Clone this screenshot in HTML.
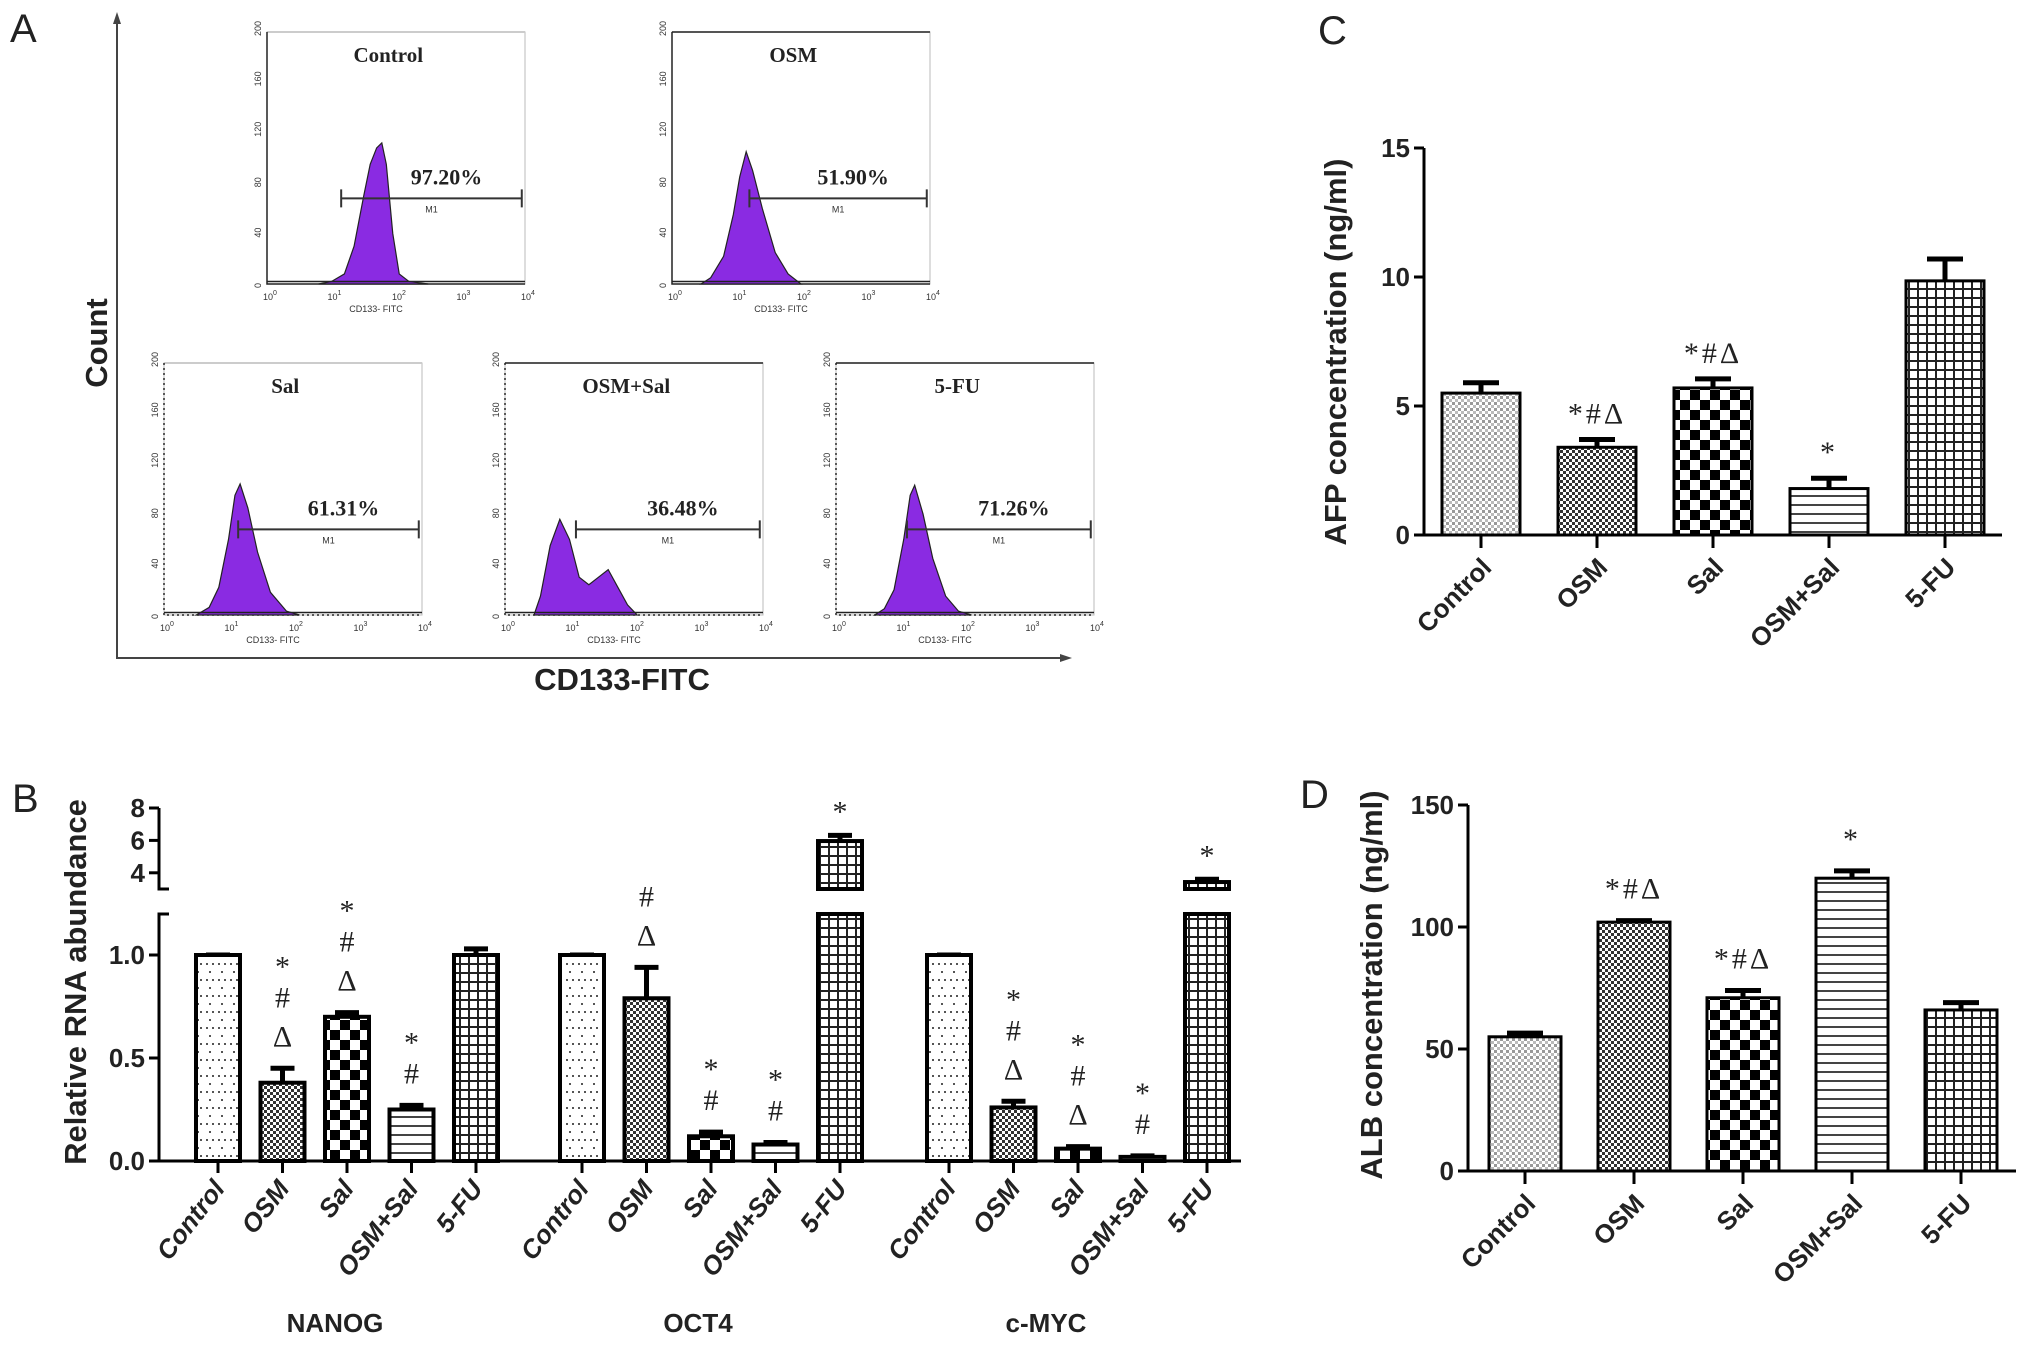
<!DOCTYPE html>
<html><head><meta charset="utf-8"><style>
html,body{margin:0;padding:0;background:#fff;}
svg{display:block;}
.ax{stroke:#000;stroke-width:3;fill:none;}
.tk{font-family:"Liberation Sans",sans-serif;font-weight:bold;font-size:26px;fill:#222;}
.ttl{font-family:"Liberation Sans",sans-serif;font-weight:bold;font-size:31px;fill:#222;}
.pl{font-family:"Liberation Sans",sans-serif;font-size:40px;fill:#222;}
.sym{font-family:"Liberation Serif",serif;font-size:30px;fill:#222;}
.hs{font-family:"Liberation Serif",serif;font-weight:bold;fill:#222;}
.sm{font-family:"Liberation Sans",sans-serif;font-size:9px;fill:#333;}
</style></head><body>
<svg id="fig" width="2031" height="1361" viewBox="0 0 2031 1361" xmlns="http://www.w3.org/2000/svg">
<defs>
<pattern id="pDots" width="6" height="6" patternUnits="userSpaceOnUse"><rect width="6" height="6" fill="#fff"/><rect x="0" y="0" width="3" height="3" fill="#999"/><rect x="3" y="3" width="3" height="3" fill="#bbb"/></pattern>
<pattern id="pDense" width="6" height="6" patternUnits="userSpaceOnUse"><rect width="6" height="6" fill="#fff"/><rect x="0" y="0" width="3" height="3" fill="#333"/><rect x="3" y="3" width="3" height="3" fill="#333"/></pattern>
<pattern id="pCheck" width="20" height="20" patternUnits="userSpaceOnUse"><rect width="20" height="20" fill="#fff"/><rect width="10" height="10" fill="#000"/><rect x="10" y="10" width="10" height="10" fill="#000"/></pattern>
<pattern id="pH" width="8" height="9" patternUnits="userSpaceOnUse"><rect width="8" height="9" fill="#fff"/><rect y="0" width="8" height="2" fill="#444"/></pattern>
<pattern id="pGrid" width="9" height="9" patternUnits="userSpaceOnUse"><rect width="9" height="9" fill="#fff"/><rect width="9" height="2" fill="#222"/><rect width="2" height="9" fill="#222"/></pattern>
<pattern id="pSparse" width="12" height="16" patternUnits="userSpaceOnUse"><rect width="12" height="16" fill="#fff"/><rect x="2" y="3" width="2" height="2" fill="#555"/><rect x="8" y="3" width="2" height="2" fill="#555"/><rect x="5" y="11" width="2" height="2" fill="#555"/></pattern>
</defs>
<g id="panelA"></g>
<g id="panelB"></g>
<g id="panelC"></g>
<g id="panelD"></g>
</svg>
<script>
var NS="http://www.w3.org/2000/svg";
function mk(parent,tag,attrs,text){var e=document.createElementNS(NS,tag);for(var k in attrs)e.setAttribute(k,attrs[k]);if(text!==undefined)e.textContent=text;parent.appendChild(e);return e;}

// ---------- data ----------
var cats=["Control","OSM","Sal","OSM+Sal","5-FU"];
var fills=["url(#pDots)","url(#pDense)","url(#pCheck)","url(#pH)","url(#pGrid)"];
var bFills=["url(#pSparse)","url(#pDense)","url(#pCheck)","url(#pH)","url(#pGrid)"];
var afpValues=[5.5,3.4,5.7,1.8,9.85];
var afpErrors=[0.4,0.3,0.35,0.4,0.85];
var afpAnnot=["","*#Δ","*#Δ","*",""];
var afpTicks=[0,5,10,15];
var albValues=[55,102,71,120,66];
var albErrors=[1.5,0.6,3,3,3];
var albAnnot=["","*#Δ","*#Δ","*",""];
var albTicks=[0,50,100,150];
var genes=["NANOG","OCT4","c-MYC"];
var nanogValues=[1.0,0.38,0.70,0.25,1.0];
var nanogErrors=[0,0.07,0.02,0.02,0.03];
var oct4Values=[1.0,0.79,0.12,0.08,5.96];
var oct4Errors=[0,0.15,0.02,0.01,0.35];
var cmycValues=[1.0,0.26,0.06,0.02,3.43];
var cmycErrors=[0,0.03,0.01,0.005,0.17];
var nanogAnnot=[[],["*","#","Δ"],["*","#","Δ"],["*","#"],[]];
var oct4Annot=[[],["#","Δ"],["*","#"],["*","#"],["*"]];
var cmycAnnot=[[],["*","#","Δ"],["*","#","Δ"],["*","#"],["*"]];
var bLowTicks=[0,0.5,1.0];
var bLowLabels=["0.0","0.5","1.0"];
var bHighTicks=[4,6,8];
// flow cytometry histograms: [log10 intensity, count]
var flowTitles=["Control","OSM","Sal","OSM+Sal","5-FU"];
var flowPercents=["97.20%","51.90%","61.31%","36.48%","71.26%"];
var flowM1Start=[1.15,1.2,1.15,1.1,1.1];
var histControl=[[0.8,0],[1.0,2],[1.2,8],[1.35,30],[1.5,70],[1.6,95],[1.7,108],[1.78,112],[1.85,95],[1.95,40],[2.05,8],[2.2,2],[2.5,0]];
var histOSM=[[0.45,0],[0.6,5],[0.8,22],[0.95,55],[1.05,85],[1.15,105],[1.25,90],[1.4,60],[1.6,25],[1.8,8],[2.0,0]];
var histSal=[[0.5,0],[0.7,6],[0.85,22],[1.0,60],[1.1,95],[1.18,104],[1.3,85],[1.45,50],[1.65,18],[1.9,3],[2.1,0]];
var histOSMSal=[[0.45,0],[0.55,15],[0.7,55],[0.85,76],[1.0,60],[1.15,30],[1.3,24],[1.45,30],[1.6,36],[1.75,22],[1.9,8],[2.05,0]];
var hist5FU=[[0.6,0],[0.75,5],[0.9,20],[1.05,60],[1.15,95],[1.22,103],[1.35,80],[1.5,45],[1.7,15],[1.9,3],[2.1,0]];
var flowHists=[histControl,histOSM,histSal,histOSMSal,hist5FU];

// ---------- Panel C / D ----------
function barChart(g,cfg){
  function y(v){return cfg.y0-(v-0)*(cfg.y0-cfg.yTop)/cfg.vmax;}
  function xc(i){return cfg.x0+cfg.first+i*cfg.step;}
  var l=mk(g,"text",{x:cfg.lx,y:cfg.ly,class:"pl"},cfg.letter);
  
  
  var yt=mk(g,"text",{x:0,y:0,class:"ttl","text-anchor":"middle",transform:"translate("+cfg.ytx+","+cfg.yty+") rotate(-90)"},cfg.ytitle);
  
  
  cfg.values.forEach(function(v,i){
    var cx=xc(i);
    var top=y(v), et=y(v+cfg.errors[i]);
    var eb=mk(g,"path",{d:"M"+cx+","+top+"V"+et+"M"+(cx-18)+","+et+"H"+(cx+18),stroke:"#000","stroke-width":5,fill:"none"});
    
    
    var r=mk(g,"rect",{x:cx-cfg.bw/2,y:top,width:cfg.bw,height:cfg.y0-top,fill:cfg.fills[i],stroke:"#000","stroke-width":3});
    
    
    if(cfg.annot[i]){
      var a=mk(g,"text",{x:cx,y:et-cfg.aoff,class:"sym","text-anchor":"middle","letter-spacing":"3"},cfg.annot[i]);
      
      
    }
    var tk=mk(g,"line",{x1:cx,x2:cx,y1:cfg.y0,y2:cfg.y0+13,class:"ax"});
    
    
    var tl=mk(g,"text",{x:0,y:0,class:"tk","font-size":"28","text-anchor":"end",transform:"translate("+(cx+12)+","+(cfg.y0+34)+") rotate(-45)"},cats[i]);
    
    
  });
  var ax=mk(g,"path",{d:"M"+cfg.x0+","+cfg.yTop+"V"+cfg.y0+"H"+cfg.xEnd,class:"ax"});
  
  
  cfg.ticks.forEach(function(t){
    var yy=y(t);
    var tl=mk(g,"line",{x1:cfg.x0-10,x2:cfg.x0,y1:yy,y2:yy,class:"ax"});
    
    
    var tx=mk(g,"text",{x:cfg.x0-14,y:yy+9,class:"tk","text-anchor":"end"},String(t));
    
    
  });
}
barChart(document.getElementById("panelC"),{letter:"C",lx:1318,ly:44,x0:1424,y0:535,yTop:148,vmax:15,first:57,step:116,bw:78,xEnd:2002,
 values:afpValues,errors:afpErrors,annot:afpAnnot,ticks:afpTicks,fills:fills,ytitle:"AFP concentration (ng/ml)",ytx:1346,yty:352,aoff:16});
barChart(document.getElementById("panelD"),{letter:"D",lx:1300,ly:808,x0:1468,y0:1171,yTop:805,vmax:150,first:57,step:109,bw:72,xEnd:2016,
 values:albValues,errors:albErrors,annot:albAnnot,ticks:albTicks,fills:fills,ytitle:"ALB concentration (ng/ml)",ytx:1382,yty:985,aoff:22});

// ---------- Panel B ----------
(function(){
  var g=document.getElementById("panelB");
  var x0=159,y0=1161,lowTop=914,highBot=889,highTop=808;
  function y(v){return v<=1.25? y0-v*206 : highBot-(v-3)*16.2;}
  var groupStart=[218,582,949], step=64.5, bw=44;
  var l=mk(g,"text",{x:12,y:812,class:"pl"},"B");
  
  
  var yt=mk(g,"text",{x:0,y:0,class:"ttl","text-anchor":"middle",transform:"translate(86,982) rotate(-90)"},"Relative RNA abundance");
  
  
  var vals=[nanogValues,oct4Values,cmycValues], errs=[nanogErrors,oct4Errors,cmycErrors], ann=[nanogAnnot,oct4Annot,cmycAnnot];
  var gx=[335,698,1046];
  genes.forEach(function(gn,gi){
    vals[gi].forEach(function(v,i){
      var cx=groupStart[gi]+i*step;
      var top=y(v), et=y(v+errs[gi][i]);
      var eb=mk(g,"path",{d:"M"+cx+","+top+"V"+et+"M"+(cx-12)+","+et+"H"+(cx+12),stroke:"#000","stroke-width":5,fill:"none"});
      
      
      if(v>1.25){
        var r1=mk(g,"rect",{x:cx-bw/2,y:top,width:bw,height:highBot-top,fill:bFills[i],stroke:"#000","stroke-width":4});
        
        
        var r2=mk(g,"rect",{x:cx-bw/2,y:lowTop,width:bw,height:y0-lowTop,fill:bFills[i],stroke:"#000","stroke-width":4});
        
        
      } else {
        var r=mk(g,"rect",{x:cx-bw/2,y:top,width:bw,height:y0-top,fill:bFills[i],stroke:"#000","stroke-width":4});
        
        
      }
      var syms=ann[gi][i];
      for(var k=0;k<syms.length;k++){
        var s=syms[syms.length-1-k];
        var yy=et-22-k*39;
        var st=mk(g,"text",{x:cx,y:s==="*"?yy+8:yy,class:"sym","text-anchor":"middle","font-size":s==="*"?"22":"30"},s);
        
        
      }
      var tk=mk(g,"line",{x1:cx,x2:cx,y1:y0,y2:y0+12,class:"ax"});
      
      
      var tl=mk(g,"text",{x:0,y:0,class:"tk","font-size":"24","font-style":"italic","text-anchor":"end",transform:"translate("+(cx+8)+","+(y0+28)+") rotate(-52)"},cats[i]);
      
      
    });
    var gl=mk(g,"text",{x:gx[gi],y:1332,class:"tk","font-size":"28","text-anchor":"middle"},gn);
    
    
  });
  var ax=mk(g,"path",{d:"M"+(x0+10)+","+lowTop+"H"+x0+"V"+y0+"H1241M"+x0+","+highTop+"V"+highBot+"H"+(x0+10),class:"ax"});
  
  
  bLowTicks.forEach(function(t,i){
    var yy=y(t);
    var tl=mk(g,"line",{x1:x0-10,x2:x0,y1:yy,y2:yy,class:"ax"});
    
    
    var tx=mk(g,"text",{x:x0-14,y:yy+9,class:"tk","text-anchor":"end"},bLowLabels[i]);
    
    
  });
  bHighTicks.forEach(function(t){
    var yy=y(t);
    var tl=mk(g,"line",{x1:x0-10,x2:x0,y1:yy,y2:yy,class:"ax"});
    
    
    var tx=mk(g,"text",{x:x0-14,y:yy+9,class:"tk","text-anchor":"end"},String(t));
    
    
  });
})();

// ---------- Panel A ----------
(function(){
  var g=document.getElementById("panelA");
  var l=mk(g,"text",{x:10,y:42,class:"pl"},"A");
  
  
  var ax=mk(g,"path",{d:"M117,16V658H1068",stroke:"#444","stroke-width":2,fill:"none"});
  
  
  mk(g,"path",{d:"M113,24L117,12L121,24Z M1060,654L1072,658L1060,662Z",fill:"#444"});
  var ct=mk(g,"text",{x:0,y:0,class:"ttl","font-weight":"bold","font-size":"30","text-anchor":"middle",transform:"translate(107,343) rotate(-90)"},"Count");
  
  
  var xt=mk(g,"text",{x:622,y:690,class:"ttl","font-weight":"bold","font-size":"30","text-anchor":"middle"},"CD133-FITC");
  
  
  var boxes=[[267,32],[672,32],[164,363],[505,363],[836,363]];
  var W=258,H=252;
  boxes.forEach(function(b,i){
    var sg=mk(g,"g",{});
    
    
    var bx=b[0],by=b[1];
    function X(lg){return bx+lg/4*W;}
    function Y(c){return by+H-c/200*H;}
    mk(sg,"path",{d:"M"+bx+","+by+"H"+(bx+W)+"V"+(by+H)+"H"+bx+"Z",stroke:"#bbb","stroke-width":1,fill:"#fff"});
    mk(sg,"line",{x1:bx,x2:bx+W,y1:by,y2:by,stroke:i==1||i>=3?"#555":"#ccc","stroke-width":2});
    mk(sg,"path",{d:"M"+bx+","+by+"V"+(by+H)+"H"+(bx+W),stroke:"#222","stroke-width":1.5,fill:"none","stroke-dasharray":i>=2?"2,3":"none"});
    var h=flowHists[i];
    var d="M"+X(h[0][0])+","+Y(0);
    h.forEach(function(p){d+="L"+X(p[0])+","+Y(p[1]);});
    d+="L"+X(h[h.length-1][0])+","+Y(0)+"Z";
    var hp=mk(sg,"path",{d:d,fill:"#8a2be2",stroke:"#222","stroke-width":1.2});
    
    
    mk(sg,"line",{x1:bx,x2:bx+W,y1:Y(2),y2:Y(2),stroke:"#222","stroke-width":1.5});
    [0,40,80,120,160,200].forEach(function(t){
      mk(sg,"text",{x:0,y:0,class:"sm","font-size":"8",transform:"translate("+(bx-6)+","+(Y(t)+4)+") rotate(-90)"},String(t));
    });
    [0,1,2,3,4].forEach(function(t){
      var tx=mk(sg,"text",{x:X(t)-4,y:by+H+16,class:"sm","font-size":"10"},"10");
      mk(tx,"tspan",{dy:"-5","font-size":"7"},String(t));
    });
    mk(sg,"text",{x:bx+W/2-20,y:by+H+28,class:"sm","font-size":"9","text-anchor":"middle"},"CD133- FITC");
    var m1y=Y(68), x1=X(flowM1Start[i]), x2=X(3.95);
    mk(sg,"path",{d:"M"+x1+","+(m1y-9)+"V"+(m1y+9)+"M"+x1+","+m1y+"H"+x2+"M"+x2+","+(m1y-9)+"V"+(m1y+9),stroke:"#333","stroke-width":2,fill:"none"});
    mk(sg,"text",{x:(x1+x2)/2,y:m1y+14,class:"sm","font-size":"9","text-anchor":"middle"},"M1");
    var tt=mk(sg,"text",{x:bx+W*0.47,y:by+30,class:"hs","font-size":"21","text-anchor":"middle"},flowTitles[i]);
    
    
    var pc=mk(sg,"text",{x:(x1+x2)/2+15,y:m1y-14,class:"hs","font-size":"22","text-anchor":"middle"},flowPercents[i]);
    
    
  });
})();
</script>
</body></html>
